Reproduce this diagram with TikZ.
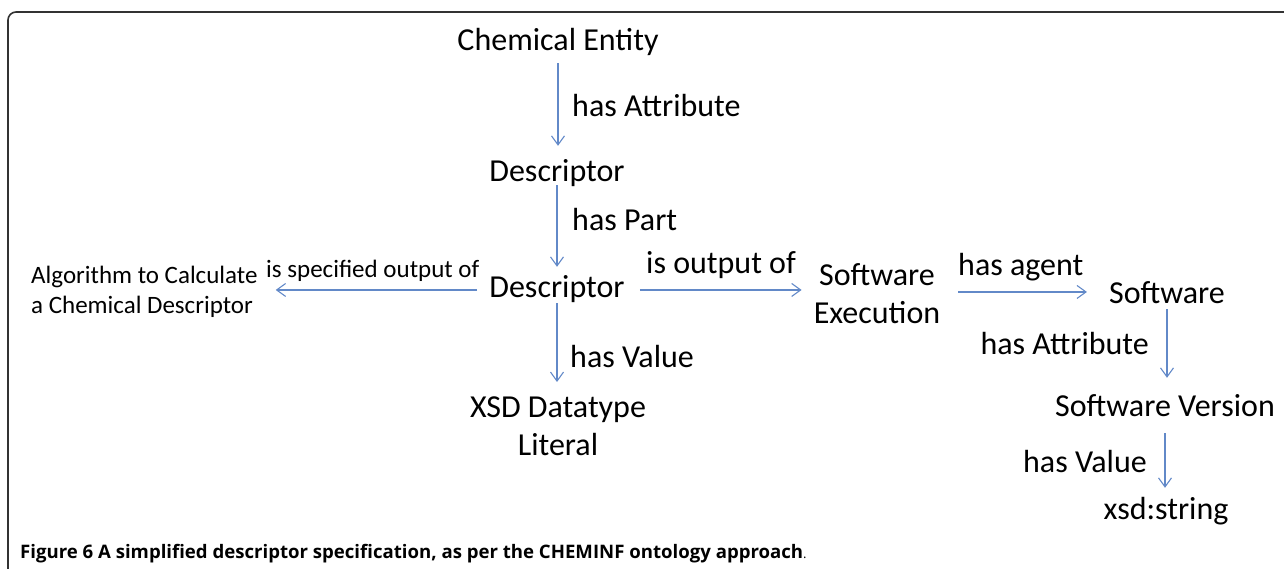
\documentclass[tikz,border=0pt]{standalone}
\usepackage{fontspec}
\setmainfont{Carlito}
\newfontfamily\capfont{Open Sans}
\usetikzlibrary{arrows.meta}
\definecolor{arrowblue}{RGB}{98,137,200}
\definecolor{framegray}{RGB}{50,50,50}
\begin{document}
\begin{tikzpicture}[x=1pt,y=-1pt,
  big/.style={font=\fontsize{32}{38}\selectfont, inner sep=0pt, text height=22.4pt, text depth=8.32pt},
  bigml/.style={font=\fontsize{32}{38}\selectfont, inner sep=0pt, align=center, anchor=north},
  lbl/.style={font=\fontsize{32}{38}\selectfont, inner sep=0pt},
  small/.style={font=\fontsize{25}{30}\selectfont, inner sep=0pt},
  arr/.style={draw=arrowblue, line width=1.2pt, -{Straight Barb[length=9pt,width=13pt,line width=1.1pt]}}
]
\useasboundingbox (0,0) rectangle (1284,569);
% frame
\draw[framegray, line width=1.6pt, rounded corners=8pt] (8,575) -- (8,12) -- (1290,12);

% nodes
\node[big, anchor=base] (ce) at (558,51) {Chemical Entity};
\node[big, anchor=base] (d1) at (557,182) {Descriptor};
\node[big, anchor=base] (d2) at (557,297) {Descriptor};
\node[bigml] (xsd) at (558,397) {XSD Datatype\\Literal};
\node[bigml] (se) at (877,263) {Software\\Execution};
\node[big, anchor=base] (sw) at (1167,303) {Software};
\node[big, anchor=base] (sv) at (1165,416) {Software Version};
\node[big, anchor=base] (xs) at (1166,519) {xsd:string};
\node[small, align=left, anchor=north west] (alg) at (31,266) {Algorithm to Calculate\\a Chemical Descriptor};

% connectors
\draw[arr, shorten <=3.7pt, shorten >=13.6pt] (ce.south) -- (ce.south |- d1.north);
\draw[arr, shorten <=-5.3pt, shorten >=7.6pt] (d1.south) -- (d1.south |- d2.north);
\draw[arr, shorten <=-2.3pt, shorten >=15pt] (d2.south) -- (d2.south |- xsd.north);
\draw[arr, shorten <=12pt, shorten >=18pt] (d2.west) -- (d2.west -| alg.east);
\draw[arr, shorten <=15pt, shorten >=12pt] (d2.east) -- (d2.east -| se.west);
\draw[arr, shorten <=18pt, shorten >=22pt, transform canvas={yshift=4pt}] (se.east |- sw.west) -- (sw.west);
\draw[arr, shorten <=-2.3pt, shorten >=15.6pt] (sw.south) -- (sw.south |- sv.north);
\draw[arr, shorten <=8.7pt, shorten >=8.6pt] (sv.south) -- (sv.south |- xs.north);

% edge labels
\node[lbl, anchor=base west] (l1) at (572,117) {has Attribute};
\node[lbl, anchor=base west] (l2) at (572,231) {has Part};
\node[lbl, anchor=base west] (l3) at (570,367) {has Value};
\node[lbl, anchor=base west] (l4) at (646,273) {is output of};
\node[lbl, anchor=base west] (l5) at (958,275) {has agent};
\node[lbl, anchor=base east] (l6) at (1149,354) {has Attribute};
\node[lbl, anchor=base east] (l7) at (1147,472) {has Value};
\node[small, anchor=base west] (l8) at (266,277) {is specified output of};

% caption
\node[inner sep=0pt, anchor=base west, font=\capfont\fontsize{18.6}{22}\selectfont] (cap) at (20,558)
  {\textbf{Figure 6} \textbf{A simplified descriptor specification, as per the CHEMINF ontology approach}{\fontsize{13}{15}\selectfont.}};
\end{tikzpicture}
\end{document}
